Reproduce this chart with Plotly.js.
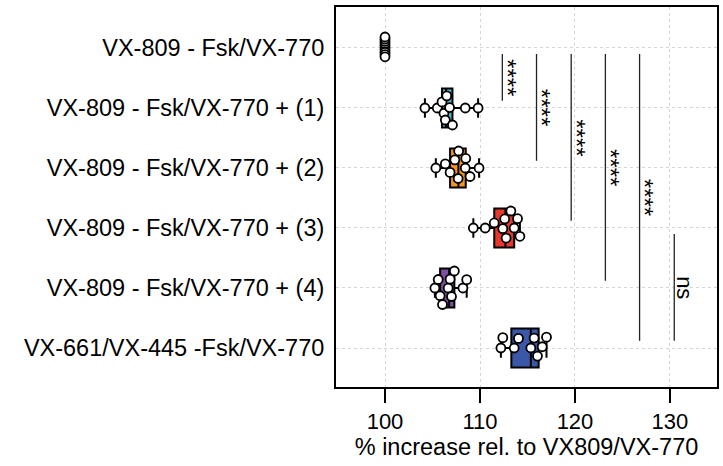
<!DOCTYPE html>
<html>
<head>
<meta charset="utf-8">
<script src="https://cdn.plot.ly/plotly-3.0.1.min.js"></script>
<style>html,body{margin:0;padding:0;background:#fff;}#chart{width:723px;height:466px;}</style>
</head>
<body>
<div id="chart"></div>
<script>
// ---- data ----
const categories = [
  'VX-809 - Fsk/VX-770',
  'VX-809 - Fsk/VX-770 + (1)',
  'VX-809 - Fsk/VX-770 + (2)',
  'VX-809 - Fsk/VX-770 + (3)',
  'VX-809 - Fsk/VX-770 + (4)',
  'VX-661/VX-445 -Fsk/VX-770'
];
const valsBase = [100, 100, 100, 100, 100, 100, 100, 100, 100, 100];
const vals1 = [104.2, 105.5, 106.0, 106.2, 106.35, 106.5, 106.8, 107.1, 108.45, 109.8];
const vals2 = [105.35, 106.35, 106.85, 107.35, 107.7, 107.75, 108.45, 108.5, 108.95, 109.9];
const vals3 = [109.3, 110.55, 111.5, 112.4, 112.6, 112.75, 113.25, 113.6, 113.95, 114.2];
const vals4 = [105.25, 105.6, 105.8, 106.05, 106.65, 106.85, 107.0, 107.3, 108.2, 108.6];
const vals5 = [112.2, 112.4, 113.6, 114.05, 115.35, 115.7, 116.05, 116.55, 117.0];
const groups = [valsBase, vals1, vals2, vals3, vals4, vals5];
const boxColors = ['#ffffff', '#4bb8c8', '#f7941d', '#e8372c', '#7d4f9e', '#3b57a7'];
const xTicks = [100, 110, 120, 130];
const xTitle = '% increase rel. to VX809/VX-770';
// significance brackets (compared category indices)
const sigX = [112.35, 115.95, 119.6, 123.2, 126.8, 130.45];
const sigFrom = [0, 0, 0, 0, 0, 3];
const sigTo = [1, 2, 3, 4, 5, 5];
const sigLabel = ['****', '****', '****', '****', '****', 'ns'];

// ---- layout geometry ----
const W = 723, H = 466;
const M = {l: 336, r: 6, t: 7, b: 79};
const xRange = [94.84, 134.95];
const yRange = [5.65, -0.683];
const pxPerX = (W - M.l - M.r) / (xRange[1] - xRange[0]);
const pxPerY = (H - M.t - M.b) / (yRange[0] - yRange[1]);

// simple beeswarm offsets (pixel space -> category units)
function swarm(vals, D, LIM) {
  const placed = [];
  const order = vals.map((v, i) => i).sort((a, b) => vals[a] - vals[b]);
  const offs = new Array(vals.length).fill(0);
  for (const i of order) {
    const x = vals[i] * pxPerX;
    const cands = [0];
    for (const p of placed) {
      const dx = x - p.x;
      if (Math.abs(dx) < D) {
        const h = Math.sqrt(D * D - dx * dx);
        cands.push(p.y + h, p.y - h);
      }
    }
    cands.sort((a, b) => Math.abs(a) - Math.abs(b) || a - b);
    for (const c of cands) {
      if (placed.every(p => (x - p.x) ** 2 + (c - p.y) ** 2 >= D * D - 1e-6)) {
        offs[i] = c; placed.push({x: x, y: c}); break;
      }
    }
  }
  const m = Math.max(...offs.map(Math.abs));
  const k = m > LIM ? LIM / m : 1;
  return offs.map(o => o * k / pxPerY);
}

const FONT = 'Liberation Sans, Arial, sans-serif';
const traces = [];
groups.forEach((vals, gi) => {
  const mn = Math.min(...vals), mx = Math.max(...vals);
  if (mx > mn) {
    traces.push({
      type: 'box', orientation: 'h', x: vals, y0: gi, name: categories[gi],
      boxpoints: false, fillcolor: boxColors[gi],
      line: {color: '#000', width: 2}, whiskerwidth: 0.5, width: 0.65,
      hoverinfo: 'skip', showlegend: false
    });
  }
});
groups.forEach((vals, gi) => {
  const offs = swarm(vals, 10.5, gi === 0 ? 11 : 17);
  traces.push({
    type: 'scatter', mode: 'markers', x: vals, y: vals.map((v, i) => gi + offs[i]),
    marker: {size: 9, color: '#ffffff', line: {color: '#000', width: 1.8}},
    hoverinfo: 'skip', showlegend: false, cliponaxis: false
  });
});

const shapes = sigX.map((x, i) => ({
  type: 'line', xref: 'x', yref: 'y', x0: x, x1: x,
  y0: sigFrom[i] + 0.1, y1: sigTo[i] - 0.12,
  line: {color: '#222', width: 1.3}
}));
const annotations = sigX.map((x, i) => {
  const stars = sigLabel[i].indexOf('*') >= 0;
  return {
    xref: 'x', yref: 'y', x: x, y: (sigFrom[i] + 0.1 + sigTo[i] - 0.12) / 2,
    text: sigLabel[i], showarrow: false, textangle: 90, xshift: stars ? 5 : 10,
    xanchor: 'center', yanchor: 'middle',
    font: {family: FONT, size: stars ? 24 : 22, color: '#000'}
  };
});

const axisCommon = {
  showline: true, mirror: true, linewidth: 2, linecolor: '#000',
  showgrid: true, gridcolor: '#d6d6d6', griddash: 'dot', gridwidth: 1,
  zeroline: false
};
const layout = {
  width: W, height: H, margin: M,
  paper_bgcolor: '#fff', plot_bgcolor: '#fff',
  font: {family: FONT, color: '#000'},
  xaxis: Object.assign({}, axisCommon, {
    range: xRange, tickmode: 'array', tickvals: xTicks,
    ticks: 'outside', ticklen: 14, tickwidth: 2, tickcolor: '#000',
    tickfont: {family: FONT, size: 22, color: '#000'},
    title: {text: xTitle, font: {family: FONT, size: 23.5, color: '#000'}, standoff: 3}
  }),
  yaxis: Object.assign({}, axisCommon, {
    range: yRange, tickmode: 'array', tickvals: categories.map((c, i) => i),
    ticktext: categories, ticks: '', ticklabelstandoff: 5,
    tickfont: {family: FONT, size: 23.5, color: '#000'}
  }),
  shapes: shapes, annotations: annotations, showlegend: false
};
Plotly.newPlot('chart', traces, layout, {staticPlot: true, displayModeBar: false});
</script>
</body>
</html>
